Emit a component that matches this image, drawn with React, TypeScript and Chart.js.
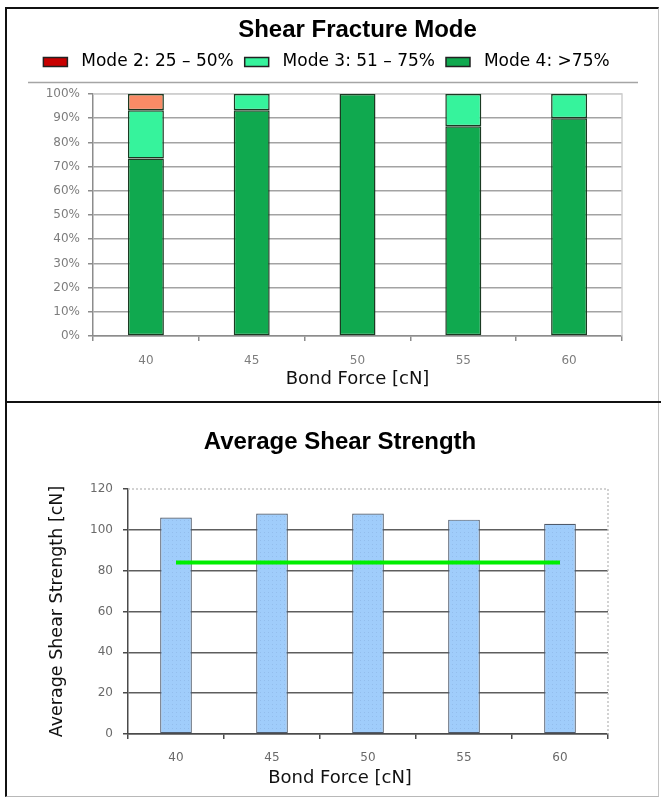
import { useEffect, useRef } from "react";
import { Chart, registerables } from "chart.js";

Chart.register(...registerables);

const UI_FONT = "'DejaVu Sans', sans-serif";
const TITLE_FONT = "'Liberation Sans', Arial, sans-serif";
Chart.defaults.font.family = UI_FONT;

// Bond force settings [cN]
const bondForce = ["40", "45", "50", "55", "60"];

// Share of sheared samples per fracture mode [%]
const mode2Share = [6.7, 0, 0, 0, 0];
const mode3Share = [20, 6.7, 0, 13.3, 10];
const mode4Share = [73.3, 93.3, 100, 86.7, 90];
const shareTicks = [0, 10, 20, 30, 40, 50, 60, 70, 80, 90, 100];

// Average shear strength [cN] and the minimum requirement line
const avgShearStrength = [106, 108, 108, 105, 103];
const minShearSpec = [84, 84, 84, 84, 84];
const strengthTicks = [0, 20, 40, 60, 80, 100, 120];

const MODE_COLORS = { m2: "#f98b66", m3: "#36f39c", m4: "#10a94f" };
const MODE2_SWATCH = "#c80000";

const gaps = (arr: number[]) => arr.map((v) => (v === 0 ? null : v));

function stipple(base: string, dot: string) {
  const c = document.createElement("canvas");
  c.width = 4;
  c.height = 4;
  const g = c.getContext("2d")!;
  g.fillStyle = base;
  g.fillRect(0, 0, 4, 4);
  g.fillStyle = dot;
  g.fillRect(1, 1, 1, 1);
  return g.createPattern(c, "repeat")!;
}

// Light frame on the top and right edges of the plot area, plus an optional rule under the legend
const plotFrame = (color: string, dash: number[], legendRule: boolean) => ({
  id: "plotFrame",
  beforeDatasetsDraw(chart: any) {
    const { ctx, chartArea: a } = chart;
    ctx.save();
    ctx.strokeStyle = color;
    ctx.lineWidth = 1.5;
    ctx.setLineDash(dash);
    ctx.beginPath();
    ctx.moveTo(a.left, a.top);
    ctx.lineTo(a.right, a.top);
    ctx.lineTo(a.right, a.bottom);
    ctx.stroke();
    ctx.restore();
  },
  afterDraw(chart: any) {
    if (!legendRule || !chart.legend) return;
    const { ctx, width } = chart;
    const y = chart.legend.bottom + 2;
    ctx.save();
    ctx.strokeStyle = "#a5a5a5";
    ctx.lineWidth = 1.5;
    ctx.beginPath();
    ctx.moveTo(21, y);
    ctx.lineTo(width - 20, y);
    ctx.stroke();
    ctx.restore();
  },
});

const spacer = (position: string, size: number) => ({
  position,
  display: true,
  grid: { display: false },
  border: { display: false },
  ticks: { display: false },
  afterFit: (s: any) => {
    if (position === "top" || position === "bottom") s.height = size;
    else s.width = size;
  },
});

function FractureModeChart() {
  const ref = useRef<HTMLCanvasElement>(null);
  useEffect(() => {
    const segment = (label: string, data: number[], color: string) => ({
      label,
      data: gaps(data),
      backgroundColor: color,
      borderColor: "#1b3a22",
      borderWidth: 1.5,
      borderSkipped: false,
      xAxisID: "x",
      yAxisID: "y",
    });
    const chart = new Chart(ref.current!, {
      type: "bar",
      data: {
        labels: bondForce,
        datasets: [
          segment("Mode 4: >75%", mode4Share, MODE_COLORS.m4),
          segment("Mode 3: 51 – 75%", mode3Share, MODE_COLORS.m3),
          segment("Mode 2: 25 – 50%", mode2Share, MODE_COLORS.m2),
        ] as any,
      },
      options: {
        responsive: false,
        animation: false,
        layout: { padding: { left: 0, right: 12, top: 0, bottom: 11.2 } },
        datasets: { bar: { categoryPercentage: 1, barPercentage: 0.34 } },
        plugins: {
          tooltip: { enabled: false },
          title: {
            display: true,
            text: "Shear Fracture Mode",
            fullSize: false,
            color: "#000",
            font: { family: TITLE_FONT, size: 24, weight: "bold", lineHeight: 1 },
            padding: { top: 9.5, bottom: 0 },
          },
          legend: {
            display: true,
            reverse: true,
            labels: {
              color: "#000",
              font: { family: UI_FONT, size: 17 },
              boxWidth: 24,
              boxHeight: 9,
              padding: 11,
              generateLabels: (c: any) =>
                (Chart.defaults.plugins.legend.labels as any)
                  .generateLabels(c)
                  .map((it: any) => ({
                    ...it,
                    text: " " + it.text,
                    fillStyle: it.datasetIndex === 2 ? MODE2_SWATCH : it.fillStyle,
                    strokeStyle: "#222",
                    lineWidth: 1.5,
                  })),
            },
          },
        },
        scales: {
          x: {
            stacked: true,
            offset: true,
            grid: {
              display: true,
              drawOnChartArea: false,
              offset: true,
              tickLength: 5,
              color: "#8c8c8c",
              lineWidth: 1.5,
            },
            border: { display: true, color: "#8c8c8c", width: 1.5 },
            ticks: { color: "#7d7d7d", font: { size: 12 }, padding: 13 },
            title: {
              display: true,
              text: "Bond Force [cN]",
              color: "#111",
              font: { size: 18, lineHeight: 1.2 },
              padding: 0,
            },
            afterFit: (s: any) => {
              s.height = 53.8;
            },
          },
          xTop: { type: "category", ...spacer("top", 13.5) },
          y: {
            stacked: true,
            min: 0,
            max: 100,
            afterBuildTicks: (s: any) => {
              s.ticks = shareTicks.map((value) => ({ value }));
            },
            grid: {
              color: (c: any) => (c.tick && c.tick.value === 100 ? "#cfcfcf" : "#a3a3a3"),
              lineWidth: 1.5,
              tickLength: 5,
              tickColor: "#8c8c8c",
            },
            border: { display: true, color: "#8c8c8c", width: 1.5 },
            ticks: {
              color: "#7d7d7d",
              font: { size: 12 },
              padding: 8,
              callback: (v: any) => v + "%",
            },
            afterFit: (s: any) => {
              s.width = 86;
            },
          },
          yRight: { type: "linear", ...spacer("right", 24) },
        } as any,
      },
      plugins: [plotFrame("#cfcfcf", [], true)],
    });
    return () => chart.destroy();
  }, []);
  return (
    <canvas
      ref={ref}
      width={651}
      height={392}
      style={{ position: "absolute", left: 7, top: 9, width: 651, height: 392 }}
    />
  );
}

function ShearStrengthChart() {
  const ref = useRef<HTMLCanvasElement>(null);
  useEffect(() => {
    const chart = new Chart(ref.current!, {
      type: "bar",
      data: {
        labels: bondForce,
        datasets: [
          {
            type: "line",
            label: "Minimum",
            data: minShearSpec,
            borderColor: "#00ee00",
            borderWidth: 4,
            pointRadius: 0,
            borderCapStyle: "butt",
            order: 0,
            xAxisID: "x",
            yAxisID: "y",
          },
          {
            type: "bar",
            label: "Average Shear Strength",
            data: avgShearStrength,
            backgroundColor: stipple("#a0cdfb", "#93bdec"),
            borderColor: "#4f5a6a",
            borderWidth: 1.2,
            borderSkipped: false,
            categoryPercentage: 1,
            barPercentage: 0.33,
            order: 1,
            xAxisID: "x",
            yAxisID: "y",
          },
        ] as any,
      },
      options: {
        responsive: false,
        animation: false,
        layout: { padding: { left: 36, right: 21, top: 0, bottom: 9 } },
        plugins: {
          tooltip: { enabled: false },
          legend: { display: false },
          title: {
            display: true,
            text: "Average Shear Strength",
            color: "#000",
            font: { family: TITLE_FONT, size: 24, weight: "bold", lineHeight: 1 },
            padding: { top: 27, bottom: 35 },
          },
          subtitle: {
            display: true,
            position: "bottom",
            text: "Bond Force [cN]",
            color: "#111",
            font: { size: 18, lineHeight: 1 },
            padding: { top: 1, bottom: 0 },
          },
        },
        scales: {
          x: {
            offset: true,
            grid: {
              display: true,
              drawOnChartArea: false,
              offset: true,
              tickLength: 5,
              color: "#4a4a4a",
              lineWidth: 1.5,
            },
            border: { display: true, color: "#4a4a4a", width: 1.5 },
            ticks: { color: "#6a6a6a", font: { size: 12 }, padding: 12 },
            afterFit: (s: any) => {
              s.height = 34;
            },
          },
          y: {
            min: 0,
            max: 120,
            afterBuildTicks: (s: any) => {
              s.ticks = strengthTicks.map((value) => ({ value }));
            },
            grid: {
              color: (c: any) => (c.tick && c.tick.value === 120 ? "rgba(0,0,0,0)" : "#5e5e5e"),
              lineWidth: 1.5,
              tickLength: 5,
              tickColor: "#4a4a4a",
            },
            border: { display: true, color: "#4a4a4a", width: 1.5 },
            ticks: { color: "#6a6a6a", font: { size: 12 }, padding: 10 },
            title: {
              display: true,
              text: "Average Shear Strength [cN]",
              color: "#111",
              font: { size: 17.5, lineHeight: 1.2 },
              padding: { top: 4, bottom: 0 },
            },
            afterFit: (s: any) => {
              s.width = 85;
            },
          },
          yRight: { type: "linear", ...spacer("right", 29) },
        } as any,
      },
      plugins: [plotFrame("#c4c4c4", [2, 2], false)],
    });
    return () => chart.destroy();
  }, []);
  return (
    <canvas
      ref={ref}
      width={651}
      height={393}
      style={{ position: "absolute", left: 7, top: 403, width: 651, height: 393 }}
    />
  );
}

export default function App() {
  return (
    <div
      style={{
        position: "fixed",
        left: 0,
        top: 0,
        width: 661,
        height: 798,
        background: "#fff",
        overflow: "hidden",
      }}
    >
      <div
        style={{
          position: "absolute",
          left: 5,
          top: 7,
          width: 654,
          height: 790,
          boxSizing: "border-box",
          borderLeft: "2px solid #111",
          borderTop: "2px solid #111",
          borderRight: "1px solid #c4c4c4",
          borderBottom: "1px solid #b8b8b8",
        }}
      />
      <div
        style={{
          position: "absolute",
          left: 5,
          top: 401,
          width: 656,
          height: 2,
          background: "#111",
        }}
      />
      <FractureModeChart />
      <ShearStrengthChart />
    </div>
  );
}
